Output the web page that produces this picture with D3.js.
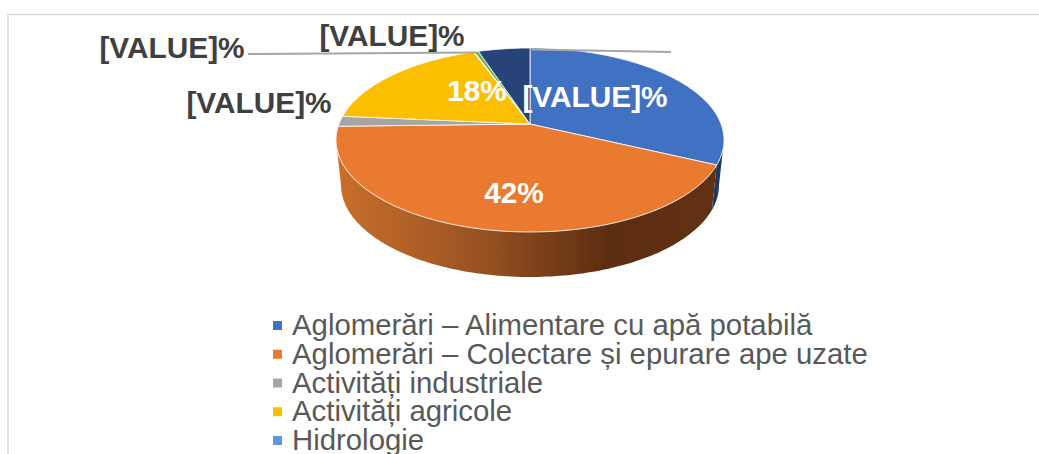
<!DOCTYPE html>
<meta charset="utf-8">
<style>
    html, body { margin: 0; background: #fff; overflow: hidden; }
    svg { display: block; font-family: "Liberation Sans", sans-serif; }
    .label { font-size: 29.8px; font-weight: bold; }
    .legend text { font-size: 29.35px; fill: #595959; }
</style>
<svg class="chart" width="1039" height="454"></svg>
<script src="https://cdn.jsdelivr.net/npm/d3@7"></script>
<script>
    // last two slices are past the bottom of the picture, their names can't be read
    var categories = ["Aglomerări – Alimentare cu apă potabilă", "Aglomerări – Colectare și epurare ape uzate",
        "Activități industriale", "Activități agricole", "Hidrologie", "", ""];
    var values = [32, 42.6, 1.8, 18, 0.1, 0.4, 5.1];
    var valueLabels = ["[VALUE]%", "42%", "[VALUE]%", "18%", "[VALUE]%", "[VALUE]%"];
    var colors = ["#4171c2", "#e97a30", "#a5a5a5", "#fcbf00", "#5b9bd5", "#70ad47", "#264478"];

    // label anchors, same order as valueLabels
    var labelX = [595, 514, 259, 477, 172, 392];
    var labelY = [107, 203, 113, 101, 58, 46];
    var labelFill = ["#fff", "#fff", "#404040", "#fff", "#404040", "#404040"];

    var svg = d3.select(".chart");

    // perspective of the disc: k moves the apex above the middle of the ellipse
    var k = -16 / 92;
    var topX = d3.scaleLinear().domain([-1, 1]).range([336, 724]);
    var topY = d3.scaleLinear().domain([-1, 1]).range([48, 232]);
    var botX = d3.scaleLinear().domain([-1, 1]).range([341, 719]);
    var botY = d3.scaleLinear().domain([-1, 1]).range([93, 277]);

    function project(angle, r) {
        var u = r * Math.sin(angle), v = -r * Math.cos(angle);
        var d = 1 + k * v;
        return { x: Math.sqrt(1 - k * k) * u / d, y: (v + k) / d };
    }

    function samples(a0, a1) {
        var n = Math.max(2, Math.ceil(Math.abs(a1 - a0) / 0.02));
        return d3.range(n + 1).map(function (i) { return a0 + (a1 - a0) * i / n; });
    }

    var line = d3.line().x(function (d) { return d[0]; }).y(function (d) { return d[1]; });

    var arcs = d3.pie().sort(null).value(function (d) { return d; })(values);

    // frame of the chart area, cut by the picture edge
    svg.append("path")
        .attr("d", "M8,454V14.5H1039")
        .attr("fill", "none")
        .attr("stroke", "#d9d9d9")
        .attr("stroke-width", 1.5);

    var grad = svg.append("defs").append("linearGradient")
        .attr("id", "wallOrange")
        .attr("gradientUnits", "userSpaceOnUse")
        .attr("x1", 336).attr("x2", 724).attr("y1", 0).attr("y2", 0);
    grad.append("stop").attr("offset", "0").attr("stop-color", "#c96f2b");
    grad.append("stop").attr("offset", "0.35").attr("stop-color", "#9c5422");
    grad.append("stop").attr("offset", "0.7").attr("stop-color", "#5c2e11");
    grad.append("stop").attr("offset", "1").attr("stop-color", "#623114");

    // side wall, only the front half of the rim shows
    var frontStart = Math.acos(k), frontEnd = 2 * Math.PI - frontStart;
    var wallFill = { 0: "#1f3864", 1: "url(#wallOrange)" };

    arcs.forEach(function (a, i) {
        var a0 = Math.max(a.startAngle, frontStart), a1 = Math.min(a.endAngle, frontEnd);
        if (a1 <= a0) return;
        var angles = samples(a0, a1);
        var upper = angles.map(function (t) {
            var p = project(t, 1);
            return [topX(p.x), topY(p.y)];
        });
        var lower = angles.slice().reverse().map(function (t) {
            var p = project(t, 1);
            return [botX(p.x), botY(p.y)];
        });
        svg.append("path")
            .attr("d", line(upper.concat(lower)) + "Z")
            .attr("fill", wallFill[i] || d3.color(colors[i]).darker(1.5));
    });

    // top face
    svg.append("g").selectAll("path")
        .data(arcs)
        .enter().append("path")
        .attr("d", function (a) {
            var apex = project(0, 0);
            var pts = samples(a.startAngle, a.endAngle).map(function (t) {
                var p = project(t, 1);
                return [topX(p.x), topY(p.y)];
            });
            return line([[topX(apex.x), topY(apex.y)]].concat(pts)) + "Z";
        })
        .attr("fill", function (a, i) { return colors[i]; })
        .attr("stroke", "#fff")
        .attr("stroke-opacity", 0.8)
        .attr("stroke-width", 1)
        .attr("stroke-linejoin", "round");

    // leader lines of the two outside labels
    svg.append("path")
        .attr("d", "M248,54L476,52.5M530,49.5L671,52")
        .attr("fill", "none")
        .attr("stroke", "#a6a6a6")
        .attr("stroke-width", 2);

    svg.append("g").selectAll("text")
        .data(valueLabels)
        .enter().append("text")
        .attr("class", "label")
        .attr("x", function (d, i) { return labelX[i]; })
        .attr("y", function (d, i) { return labelY[i]; })
        .attr("text-anchor", "middle")
        .attr("fill", function (d, i) { return labelFill[i]; })
        .text(function (d) { return d; });

    // legend, only the entries with a readable name
    var named = categories.filter(function (d) { return d; });
    var rowY = d3.scalePoint().domain(named).range([335, 450]);

    var row = svg.append("g").attr("class", "legend").selectAll("g")
        .data(named)
        .enter().append("g")
        .attr("transform", function (d) { return "translate(0," + rowY(d) + ")"; });

    row.append("rect")
        .attr("x", 273)
        .attr("y", -14)
        .attr("width", 9)
        .attr("height", 9)
        .attr("fill", function (d, i) { return colors[i]; });

    row.append("text")
        .attr("x", 292)
        .text(function (d) { return d; });
</script>
